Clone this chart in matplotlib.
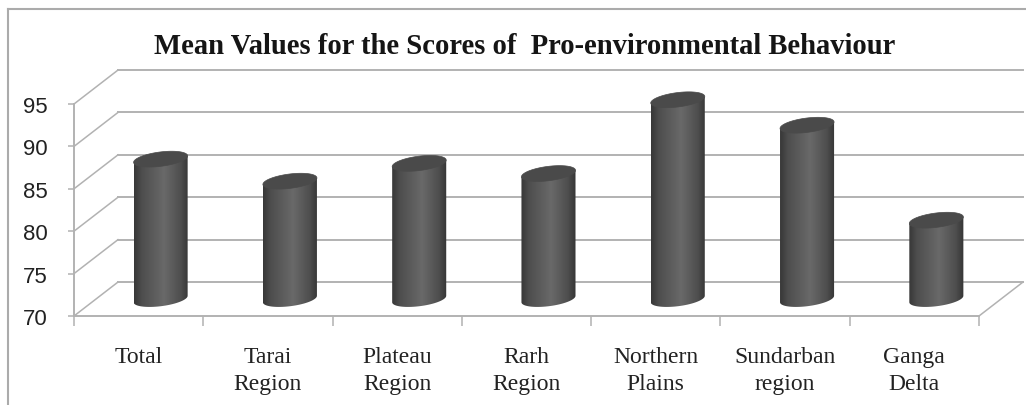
# Mean pro-environmental behaviour scores, fake-3D cylinders on a perspective box.
import numpy as np
import matplotlib
matplotlib.use("Agg")
import matplotlib.pyplot as plt
from matplotlib.colors import LinearSegmentedColormap
from matplotlib.lines import Line2D
from matplotlib.patches import PathPatch, Polygon
from matplotlib.path import Path

categories = ["Total", "Tarai\nRegion", "Plateau\nRegion", "Rarh\nRegion",
              "Northern\nPlains", "Sundarban\nregion", "Ganga\nDelta"]
scores = [86.5, 83.9, 86.0, 84.8, 93.5, 90.5, 79.3]
y_ticks = [70, 75, 80, 85, 90, 95]

W, H = 1026, 406
GRID = "#b2b2b2"
DX, DY = 0.34, 4.0         # depth of the box, in data units
BAR_A, BAR_B, BAR_S = 0.209, 0.85, 0.38   # cylinder half width, half height, tilt

plt.rcParams["font.family"] = "Liberation Serif"
fig = plt.figure(figsize=(W / 100, H / 100), dpi=100, facecolor="white")
ax = fig.add_axes([74 / W, 1 - 317 / H, 905 / W, 212 / H])

# outer frame: only left and top edges show in the crop
for xs, ys in [((8, 8), (0, 396)), ((8, 1026), (396, 396))]:
    fig.add_artist(Line2D([x / W for x in xs], [y / H for y in ys], color="#ababab", lw=1.5))

# back wall and left wall grid
for v in y_ticks:
    ax.plot([-0.5 + DX, 6.5 + DX], [v + DY, v + DY], color=GRID, lw=1.4, clip_on=False, zorder=1)
    ax.plot([-0.5, -0.5 + DX], [v, v + DY], color=GRID, lw=1.1, clip_on=False, zorder=1)
ax.plot([6.5, 6.5 + DX], [70, 70 + DY], color=GRID, lw=1.1, clip_on=False, zorder=1)

shade = LinearSegmentedColormap.from_list(
    "cyl", [(0, "#383838"), (0.14, "#4e4e4e"), (0.55, "#696969"), (0.86, "#4e4e4e"), (1, "#363636")])
grad = np.linspace(0, 1, 64).reshape(1, -1)
t_low = np.linspace(np.pi, 2 * np.pi, 40)
t_all = np.linspace(0, 2 * np.pi, 80)

for i, val in enumerate(scores):
    cx = i + DX / 2
    base = 70 + DY / 2
    top = val + DY / 2
    bx = cx + BAR_A * np.cos(t_low)
    by = base + BAR_S * np.cos(t_low) + BAR_B * np.sin(t_low)
    verts = list(zip(bx, by)) + [(cx + BAR_A, top + BAR_S), (cx - BAR_A, top - BAR_S), (bx[0], by[0])]
    clip = PathPatch(Path(verts), transform=ax.transData, fc="none", ec="none")
    ax.add_patch(clip)
    im = ax.imshow(grad, cmap=shade, aspect="auto", zorder=3, vmin=0, vmax=1,
                   extent=[cx - BAR_A, cx + BAR_A, base - 2, top + 2])
    im.set_clip_box(fig.bbox)   # tallest bar rises past the axes box
    im.set_clip_path(clip)
    rim = np.column_stack([cx + BAR_A * np.cos(t_all),
                           top + BAR_S * np.cos(t_all) + BAR_B * np.sin(t_all)])
    ax.add_patch(Polygon(rim, closed=True, fc="#4a4a4a", ec="#4a4a4a", lw=0.5, zorder=4,
                         clip_on=False))

ax.set_xlim(-0.5, 6.5)
ax.set_ylim(70, 95)
ax.patch.set_visible(False)
for side in ["top", "right"]:
    ax.spines[side].set_visible(False)
for side in ["left", "bottom"]:
    ax.spines[side].set_color(GRID)
    ax.spines[side].set_linewidth(1.4)

ax.set_yticks(y_ticks)
ax.set_yticklabels(y_ticks, fontsize=16, family="Liberation Sans", color="#222222")
ax.tick_params(axis="y", length=4, width=1.1, color=GRID, pad=15)
ax.set_xticks(np.arange(-0.5, 7))
ax.set_xticklabels([])
ax.tick_params(axis="x", length=7.5, width=1.1, color=GRID)
ax.set_xticks(np.arange(7), minor=True)
ax.set_xticklabels(categories, minor=True, fontsize=17, color="#222222", linespacing=1.4)
ax.tick_params(axis="x", which="minor", length=0, pad=21.5)

fig.text(525 / W, 1 - 47 / H, "Mean Values for the Scores of  Pro-environmental Behaviour",
         ha="center", va="center", fontsize=20.6, fontweight="bold", color="#151515")

fig.savefig("out.png", dpi=100)
